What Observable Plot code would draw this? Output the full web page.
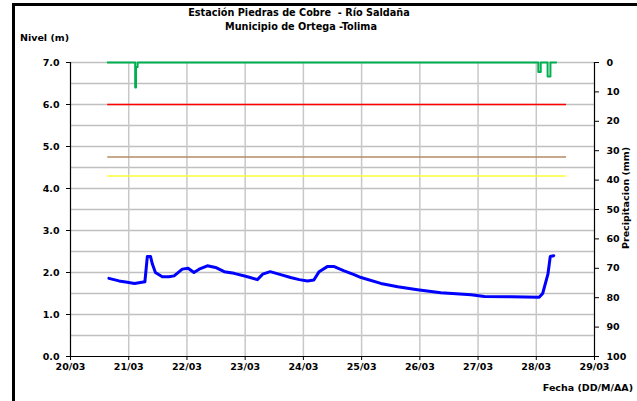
<!DOCTYPE html>
<html><head><meta charset="utf-8">
<script src="https://cdn.jsdelivr.net/npm/d3@7"></script>
<script src="https://cdn.jsdelivr.net/npm/@observablehq/plot@0.6"></script>
<style>
body{margin:0;background:#fff}
#wrap{position:relative;width:637px;height:401px;overflow:hidden;font-family:"DejaVu Sans",sans-serif;font-weight:bold;color:#000;background:#fff}
.t{position:absolute;white-space:pre;font-size:9.5px;line-height:1}
.b{position:absolute;background:#000}
</style></head><body><div id="wrap"></div>
<script>
// ---- data ----
const titleLines = ["Estación Piedras de Cobre  - Río Saldaña", "Municipio de Ortega -Tolima"];
const yLabel = "Nivel (m)";
const xLabel = "Fecha (DD/M/AA)";
const y2Label = "Precipitacion (mm)";

const nivelTimes = ["20/03 15:50","20/03 20:00","20/03 23:24","21/03 02:24","21/03 06:40","21/03 07:40","21/03 09:00","21/03 09:45","21/03 11:00","21/03 13:50","21/03 16:34","21/03 18:43","21/03 22:05","22/03 00:29","22/03 02:53","22/03 05:02","22/03 08:24","22/03 11:46","22/03 15:22","22/03 19:26","23/03 00:58","23/03 05:02","23/03 07:12","23/03 10:19","23/03 14:38","23/03 18:43","23/03 22:19","24/03 01:41","24/03 04:19","24/03 06:29","24/03 09:50","24/03 12:43","24/03 16:48","24/03 20:53","24/03 23:46","25/03 07:55","25/03 14:53","25/03 23:02","26/03 08:38","26/03 21:07","27/03 02:38","27/03 13:41","28/03 01:12","28/03 02:38","28/03 04:48","28/03 05:46","28/03 07:12"];
const nivelValues = [1.86,1.80,1.77,1.74,1.78,2.38,2.38,2.20,2.00,1.90,1.90,1.92,2.08,2.10,2.00,2.08,2.16,2.12,2.02,1.98,1.90,1.83,1.96,2.02,1.95,1.88,1.83,1.80,1.82,2.02,2.14,2.14,2.04,1.95,1.88,1.74,1.66,1.59,1.52,1.47,1.43,1.42,1.41,1.50,1.96,2.38,2.40];

const precipTimes = ["20/03 15:20","21/03 02:40","21/03 03:00","21/03 03:40","28/03 00:50","28/03 01:50","28/03 04:40","28/03 05:50","28/03 08:10"];
const precipValues = [0,8.5,1.5,0,3.2,0,4.8,0,0];

const thresholdValues = [6.0, 4.75, 4.3];
const thresholdColors = ["#ff0000", "#b38d66", "#ffff33"];
const thresholdStart = "20/03 15:20";
const thresholdEnd = "28/03 12:30";

const dayTicks = ["20/03","21/03","22/03","23/03","24/03","25/03","26/03","27/03","28/03","29/03"];
const nivelTicks = [0,1,2,3,4,5,6,7];
const gridLevels = [0.5,1,1.5,2,2.5,3,3.5,4,4.5,5,5.5,6,6.5,7];
const precipTicks = [0,10,20,30,40,50,60,70,80,90,100];
const nivelMax = 7, precipMax = 100;

// ---- build ----
const parse = d3.timeParse("%d/%m %H:%M");
const parseDay = d3.timeParse("%d/%m");
const days = dayTicks.map(parseDay);
const p2y = mm => nivelMax - mm * nivelMax / precipMax;
const nivel = nivelTimes.map((t, i) => ({t: parse(t), v: nivelValues[i]}));
const precip = precipTimes.map((t, i) => ({t: parse(t), v: p2y(precipValues[i])}));
const thresholds = thresholdValues.map((v, i) => ({v, c: thresholdColors[i], x1: parse(thresholdStart), x2: parse(thresholdEnd)}));

const chart = Plot.plot({
  width: 637, height: 401,
  marginLeft: 70, marginRight: 43, marginTop: 62, marginBottom: 45,
  style: {fontFamily: "DejaVu Sans", fontWeight: "bold", fontSize: "9.5px", color: "#000", background: "transparent"},
  x: {type: "time", domain: [days[0], days[days.length - 1]]},
  y: {domain: [0, nivelMax]},
  marks: [
    Plot.gridY(gridLevels, {stroke: "#c0c0c0", strokeOpacity: 1, strokeWidth: 1.5}),
    Plot.gridX(days.slice(1, -1), {stroke: "#c8c8c8", strokeOpacity: 1, strokeWidth: 1.5}),
    Plot.ruleY(thresholds, {y: "v", x1: "x1", x2: "x2", stroke: "c", strokeWidth: 1.5}),
    Plot.line(precip, {x: "t", y: "v", curve: "step-after", stroke: "#00b050", strokeWidth: 2}),
    Plot.line(nivel, {x: "t", y: "v", stroke: "#0000ff", strokeWidth: 3, strokeLinejoin: "round", strokeLinecap: "round"}),
    Plot.ruleX([days[0], days[days.length - 1]], {stroke: "#000", strokeWidth: 1.2}),
    Plot.ruleY([0], {stroke: "#000", strokeWidth: 1.2}),
    Plot.axisY(nivelTicks, {anchor: "left", tickSize: 4, tickPadding: 7, tickFormat: d3.format(".1f"), label: null}),
    Plot.axisY(precipTicks.map(p2y), {anchor: "right", tickSize: 4, tickPadding: 8, tickFormat: v => String(Math.round((nivelMax - v) * precipMax / nivelMax)), label: null}),
    Plot.axisX(days, {anchor: "bottom", tickSize: 4, tickPadding: 3, tickFormat: d3.timeFormat("%d/%m"), label: null})
  ]
});
const wrap = document.getElementById("wrap");
wrap.appendChild(chart);
chart.style.position = "absolute"; chart.style.left = "0"; chart.style.top = "0";

function addText(txt, css) {
  const d = document.createElement("div");
  d.className = "t"; d.textContent = txt;
  Object.assign(d.style, css);
  wrap.appendChild(d);
  return d;
}
addText(titleLines[0], {left: "299px", top: "8px", transform: "translateX(-50%)", fontSize: "9.7px"});
addText(titleLines[1], {left: "301px", top: "22px", transform: "translateX(-50%)", fontSize: "9.7px"});
addText(yLabel, {left: "20px", top: "33px"});
addText(xLabel, {right: "4px", top: "383px"});
addText(y2Label, {left: "626px", top: "198px", transform: "translate(-50%,-50%) rotate(-90deg)"});
function addBar(css) { const d = document.createElement("div"); d.className = "b"; Object.assign(d.style, css); wrap.appendChild(d); }
addBar({left: "12px", top: "3px", width: "3px", height: "398px"});
addBar({left: "12px", top: "3px", width: "625px", height: "3px"});
</script></body></html>
